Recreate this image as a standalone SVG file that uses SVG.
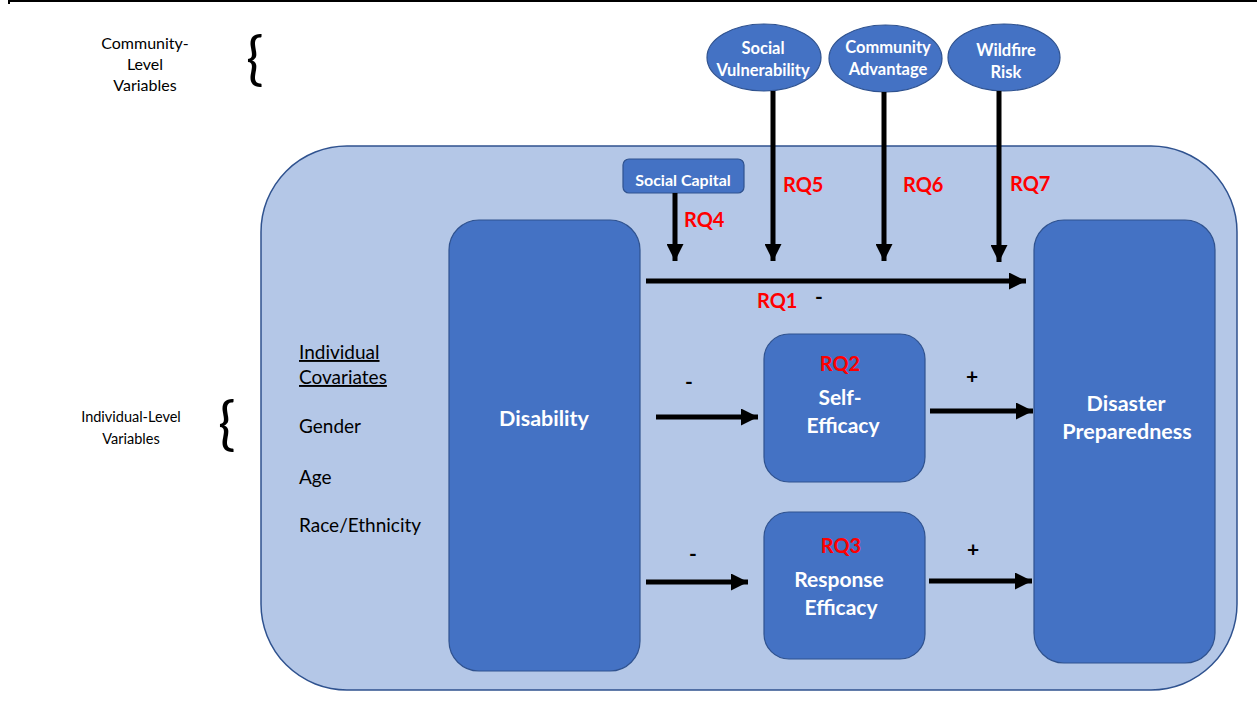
<svg xmlns="http://www.w3.org/2000/svg" width="1257" height="704" viewBox="0 0 1257 704">
<defs>
<style>
.box{fill:#4472C4;stroke:#2F528F;stroke-width:1.2}
.outer{fill:#B4C7E7;stroke:#2F528F;stroke-width:1.5}
.w{font-family:Lato,"Liberation Sans",sans-serif;font-weight:bold;fill:#fff;text-anchor:middle}
.rq{font-family:Lato,"Liberation Sans",sans-serif;font-weight:bold;fill:#FF0000;font-size:20px}
.k{font-family:Lato,"Liberation Sans",sans-serif;fill:#000}
.sign{font-family:Lato,"Liberation Sans",sans-serif;font-weight:bold;fill:#000;font-size:21px;text-anchor:middle}
.arr{stroke:#000;stroke-width:5;fill:none}
</style>
<marker id="ah" viewBox="0 0 10 10" refX="10" refY="5" markerWidth="3.4" markerHeight="3.4" orient="auto" markerUnits="strokeWidth">
<path d="M0,0 L10,5 L0,10 Z" fill="#000"/>
</marker>
</defs>
<rect width="1257" height="704" fill="#fff"/>
<line x1="8" y1="1" x2="1257" y2="1" stroke="#000" stroke-width="2"/>
<line x1="9" y1="0" x2="9" y2="4" stroke="#000" stroke-width="2"/>

<g id="labels-left">
<text class="k" font-size="16" text-anchor="middle"><tspan x="145" y="49">Community-</tspan><tspan x="145" y="70">Level</tspan><tspan x="145" y="91">Variables</tspan></text>
<text class="k" font-size="58" x="246" y="79">{</text>
<text class="k" font-size="14.5" text-anchor="middle"><tspan x="131" y="422">Individual-Level</tspan><tspan x="131" y="444">Variables</tspan></text>
<text class="k" font-size="58" x="218" y="444">{</text>
</g>

<g id="container">
<rect class="outer" x="261" y="146" width="976" height="544" rx="86" ry="86"/>
</g>

<g id="covariates">
<text class="k" font-size="19" x="299" y="359" text-decoration="underline">Individual</text>
<text class="k" font-size="19" x="299" y="384" text-decoration="underline">Covariates</text>
<text class="k" font-size="19" x="299" y="433">Gender</text>
<text class="k" font-size="19" x="299" y="484">Age</text>
<text class="k" font-size="19" x="299" y="532">Race/Ethnicity</text>
</g>

<g id="disability">
<rect class="box" x="449" y="220" width="191" height="451" rx="30"/>
<text class="w" font-size="21.5" x="544" y="426">Disability</text>
</g>

<g id="preparedness">
<rect class="box" x="1034" y="220" width="181" height="443" rx="30"/>
<text class="w" font-size="21.5" x="1126" y="411">Disaster</text>
<text class="w" font-size="21.5" x="1127" y="439">Preparedness</text>
</g>

<g id="self-efficacy">
<rect class="box" x="764" y="334" width="161" height="148" rx="25"/>
<text class="rq" x="840" y="371" text-anchor="middle">RQ2</text>
<text class="w" font-size="21" x="840" y="405">Self-</text>
<text class="w" font-size="21" x="843" y="433">Efficacy</text>
</g>

<g id="response-efficacy">
<rect class="box" x="764" y="512" width="161" height="147" rx="25"/>
<text class="rq" x="841" y="553" text-anchor="middle">RQ3</text>
<text class="w" font-size="21" x="839" y="587">Response</text>
<text class="w" font-size="21" x="841" y="615">Efficacy</text>
</g>

<g id="social-capital">
<rect class="box" x="623" y="159" width="121" height="34" rx="6"/>
<text class="w" font-size="16" x="683" y="186">Social Capital</text>
</g>

<g id="social-vulnerability">
<ellipse class="box" cx="764" cy="57.5" rx="57" ry="33.5"/>
<text class="w" font-size="16.5" x="763" y="54">Social</text>
<text class="w" font-size="16.5" x="763" y="76">Vulnerability</text>
</g>

<g id="community-advantage">
<ellipse class="box" cx="885.5" cy="58.5" rx="56.5" ry="33.5"/>
<text class="w" font-size="16.5" x="888" y="53">Community</text>
<text class="w" font-size="16.5" x="888" y="75">Advantage</text>
</g>

<g id="wildfire-risk">
<ellipse class="box" cx="1004" cy="57.5" rx="56" ry="33.5"/>
<text class="w" font-size="16.5" x="1006" y="56">Wildfire</text>
<text class="w" font-size="16.5" x="1006" y="78">Risk</text>
</g>

<g id="connectors">
<line class="arr" x1="675" y1="193" x2="675" y2="261" marker-end="url(#ah)"/>
<line class="arr" x1="773" y1="91" x2="773" y2="261" marker-end="url(#ah)"/>
<line class="arr" x1="884" y1="92" x2="884" y2="261" marker-end="url(#ah)"/>
<line class="arr" x1="999" y1="91" x2="999" y2="262" marker-end="url(#ah)"/>
<line class="arr" x1="646" y1="281" x2="1026" y2="281" marker-end="url(#ah)"/>
<line class="arr" x1="656" y1="417" x2="758" y2="417" marker-end="url(#ah)"/>
<line class="arr" x1="930" y1="411" x2="1033" y2="411" marker-end="url(#ah)"/>
<line class="arr" x1="646" y1="582" x2="748" y2="582" marker-end="url(#ah)"/>
<line class="arr" x1="929" y1="581" x2="1032" y2="581" marker-end="url(#ah)"/>
</g>

<g id="connector-labels">
<text class="rq" x="684" y="227">RQ4</text>
<text class="rq" x="783" y="192">RQ5</text>
<text class="rq" x="903" y="192">RQ6</text>
<text class="rq" x="1010" y="191">RQ7</text>
<text class="rq" x="757" y="308">RQ1</text>
<text class="sign" x="819" y="304">-</text>
<text class="sign" x="689" y="389">-</text>
<text class="sign" x="972" y="384">+</text>
<text class="sign" x="693" y="561">-</text>
<text class="sign" x="973" y="557">+</text>
</g>
</svg>
